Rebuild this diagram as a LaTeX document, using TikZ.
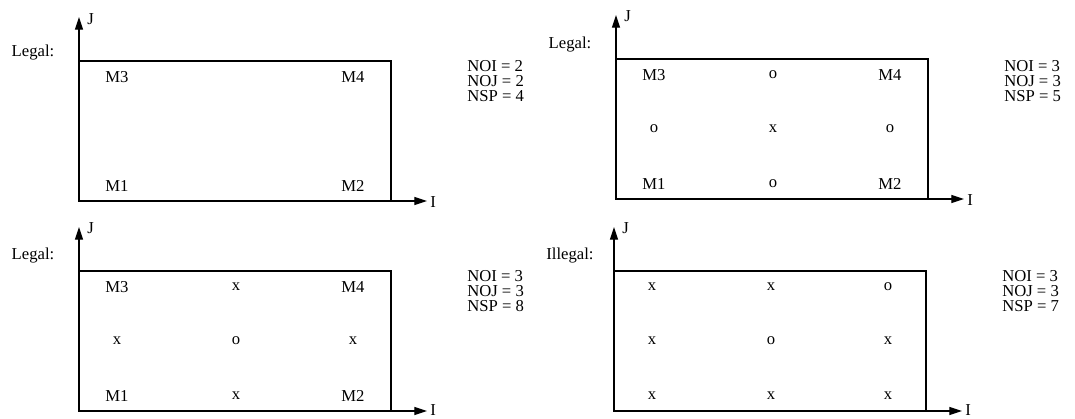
\documentclass[tikz,border=0pt]{standalone}
\usepackage{fontspec}
\setmainfont{Liberation Serif}
\usetikzlibrary{arrows.meta}
\tikzset{
  axisline/.style={line width=0.95pt, -{Triangle[length=9.5pt,width=6pt]}},
  framebox/.style={line width=0.95pt},
  lbl/.style={inner sep=0pt, font=\fontsize{12.5}{14}\selectfont},
  cell/.style={inner sep=0pt, font=\fontsize{12.5}{14}\selectfont},
  info/.style={inner sep=0pt, anchor=north west, align=left, font=\fontsize{12.5}{11.5}\selectfont},
}
\begin{document}
\begin{tikzpicture}[x=0.75pt,y=-0.75pt]
\useasboundingbox (0,0) rectangle (1075,418);
\clip (0,0) rectangle (1075,418);
% ---------- top left ----------
\begin{scope}[shift={(0,0)}]
\coordinate (aO) at (79,201);
\coordinate (aJ) at (79,17);
\coordinate (aI) at (427,201);
\coordinate (aC) at (391,61);
\draw[framebox] (aO) rectangle (aC);
\draw[axisline] (aO) -- (aJ);
\draw[axisline] (aO) -- (aI);
\node[lbl, anchor=west] (aJl) at (87,19) {J};
\node[lbl, anchor=west] (aIl) at (430,202) {I};
\node[lbl] (aS) at (33,53) {Legal:};
\node[cell] (a11) at (117,77) {M3};
\node[cell] (a13) at (353,77) {M4};
\node[cell] (a31) at (117,186) {M1};
\node[cell] (a33) at (353,186) {M2};
\node[info] (aN) at (467,60) {NOI = 2\\NOJ = 2\\NSP = 4};
\end{scope}
% ---------- top right ----------
\begin{scope}[shift={(537,-2)}]
\coordinate (bO) at (79,201);
\coordinate (bJ) at (79,17);
\coordinate (bI) at (427,201);
\coordinate (bC) at (391,61);
\draw[framebox] (bO) rectangle (bC);
\draw[axisline] (bO) -- (bJ);
\draw[axisline] (bO) -- (bI);
\node[lbl, anchor=west] (bJl) at (87,18) {J};
\node[lbl, anchor=west] (bIl) at (430,202) {I};
\node[lbl] (bS) at (33,47) {Legal:};
\node[cell] (b11) at (117,77) {M3};
\node[cell] (b12) at (236,77) {o};
\node[cell] (b13) at (353,77) {M4};
\node[cell] (b21) at (117,131) {o};
\node[cell] (b22) at (236,131) {x};
\node[cell] (b23) at (353,131) {o};
\node[cell] (b31) at (117,186) {M1};
\node[cell] (b32) at (236,186) {o};
\node[cell] (b33) at (353,186) {M2};
\node[info] (bN) at (467,62) {NOI = 3\\NOJ = 3\\NSP = 5};
\end{scope}
% ---------- bottom left ----------
\begin{scope}[shift={(0,210)}]
\coordinate (cO) at (79,201);
\coordinate (cJ) at (79,17);
\coordinate (cI) at (427,201);
\coordinate (cC) at (391,61);
\draw[framebox] (cO) rectangle (cC);
\draw[axisline] (cO) -- (cJ);
\draw[axisline] (cO) -- (cI);
\node[lbl, anchor=west] (cJl) at (87,18) {J};
\node[lbl, anchor=west] (cIl) at (430,200) {I};
\node[lbl] (cS) at (33,46) {Legal:};
\node[cell] (c11) at (117,77) {M3};
\node[cell] (c12) at (236,77) {x};
\node[cell] (c13) at (353,77) {M4};
\node[cell] (c21) at (117,131) {x};
\node[cell] (c22) at (236,131) {o};
\node[cell] (c23) at (353,131) {x};
\node[cell] (c31) at (117,186) {M1};
\node[cell] (c32) at (236,186) {x};
\node[cell] (c33) at (353,186) {M2};
\node[info] (cN) at (467,60) {NOI = 3\\NOJ = 3\\NSP = 8};
\end{scope}
% ---------- bottom right ----------
\begin{scope}[shift={(535,210)}]
\coordinate (dO) at (79,201);
\coordinate (dJ) at (79,17);
\coordinate (dI) at (427,201);
\coordinate (dC) at (391,61);
\draw[framebox] (dO) rectangle (dC);
\draw[axisline] (dO) -- (dJ);
\draw[axisline] (dO) -- (dI);
\node[lbl, anchor=west] (dJl) at (87,18) {J};
\node[lbl, anchor=west] (dIl) at (430,200) {I};
\node[lbl] (dS) at (35,46) {Illegal:};
\node[cell] (d11) at (117,77) {x};
\node[cell] (d12) at (236,77) {x};
\node[cell] (d13) at (353,77) {o};
\node[cell] (d21) at (117,131) {x};
\node[cell] (d22) at (236,131) {o};
\node[cell] (d23) at (353,131) {x};
\node[cell] (d31) at (117,186) {x};
\node[cell] (d32) at (236,186) {x};
\node[cell] (d33) at (353,186) {x};
\node[info] (dN) at (467,60) {NOI = 3\\NOJ = 3\\NSP = 7};
\end{scope}
\end{tikzpicture}
\end{document}
